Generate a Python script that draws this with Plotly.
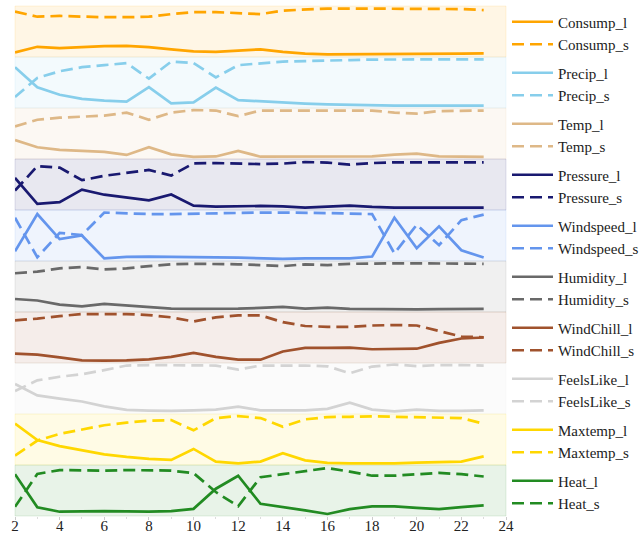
import plotly.graph_objects as go
from plotly.subplots import make_subplots

hours = list(range(2, 24))
x_ticks = list(range(2, 25, 2))

names = ["Consump", "Precip", "Temp", "Pressure", "Windspeed",
         "Humidity", "WindChill", "FeelsLike", "Maxtemp", "Heat"]
colors = ["#FFA500", "#87CEEB", "#DEB887", "#191970", "#6495ED",
          "#696969", "#A0522D", "#D3D3D3", "#FFD700", "#228B22"]

# Scaled series (0 = low, 1 = high) for the long (_l) and short (_s) signals
consump_l = [0.09, 0.20, 0.175, 0.195, 0.214, 0.22, 0.195, 0.15, 0.11, 0.10, 0.13,
             0.15, 0.10, 0.065, 0.052, 0.052, 0.052, 0.052, 0.052, 0.058, 0.065, 0.07]
consump_s = [0.89, 0.79, 0.805, 0.79, 0.78, 0.78, 0.79, 0.84, 0.88, 0.88, 0.86,
             0.84, 0.91, 0.935, 0.95, 0.95, 0.95, 0.95, 0.95, 0.94, 0.94, 0.92]
precip_l = [0.80, 0.405, 0.26, 0.18, 0.145, 0.125, 0.41, 0.09, 0.11, 0.40, 0.155,
            0.13, 0.105, 0.085, 0.07, 0.06, 0.05, 0.045, 0.045, 0.045, 0.045, 0.045]
precip_s = [0.215, 0.59, 0.72, 0.80, 0.84, 0.88, 0.575, 0.91, 0.88, 0.60, 0.84,
            0.88, 0.91, 0.92, 0.935, 0.94, 0.95, 0.95, 0.95, 0.955, 0.955, 0.955]
temp_l = [0.37, 0.23, 0.18, 0.16, 0.14, 0.08, 0.23, 0.09, 0.04, 0.05, 0.16,
          0.045, 0.045, 0.045, 0.045, 0.045, 0.05, 0.087, 0.107, 0.05, 0.045, 0.04]
temp_s = [0.64, 0.77, 0.81, 0.83, 0.85, 0.91, 0.77, 0.91, 0.96, 0.95, 0.84,
          0.95, 0.95, 0.95, 0.95, 0.95, 0.95, 0.91, 0.89, 0.94, 0.95, 0.95]
pressure_l = [0.63, 0.12, 0.155, 0.40, 0.30, 0.24, 0.19, 0.305, 0.085, 0.065, 0.07,
              0.08, 0.07, 0.045, 0.065, 0.085, 0.06, 0.045, 0.045, 0.045, 0.045, 0.045]
pressure_s = [0.38, 0.86, 0.83, 0.585, 0.67, 0.73, 0.785, 0.675, 0.915, 0.92, 0.915,
              0.90, 0.91, 0.94, 0.93, 0.89, 0.92, 0.935, 0.935, 0.935, 0.935, 0.935]
windspeed_l = [0.19, 0.92, 0.43, 0.50, 0.05, 0.08, 0.087, 0.087, 0.08, 0.073, 0.067,
               0.053, 0.04, 0.053, 0.053, 0.053, 0.087, 0.85, 0.25, 0.68, 0.21, 0.067]
windspeed_s = [0.85, 0.073, 0.55, 0.51, 0.95, 0.93, 0.92, 0.92, 0.93, 0.93, 0.94,
               0.95, 0.95, 0.95, 0.94, 0.93, 0.92, 0.15, 0.71, 0.31, 0.80, 0.91]
humidity_l = [0.255, 0.225, 0.145, 0.11, 0.16, 0.13, 0.09, 0.065, 0.06, 0.06, 0.065,
              0.08, 0.10, 0.065, 0.085, 0.06, 0.053, 0.053, 0.053, 0.055, 0.058, 0.06]
humidity_s = [0.76, 0.79, 0.855, 0.88, 0.835, 0.855, 0.90, 0.935, 0.945, 0.945, 0.935,
              0.92, 0.90, 0.935, 0.92, 0.945, 0.955, 0.955, 0.955, 0.95, 0.95, 0.945]
windchill_l = [0.185, 0.165, 0.11, 0.05, 0.045, 0.05, 0.07, 0.12, 0.20, 0.12, 0.065,
               0.065, 0.225, 0.295, 0.295, 0.30, 0.27, 0.275, 0.28, 0.395, 0.48, 0.50]
windchill_s = [0.835, 0.87, 0.92, 0.96, 0.96, 0.96, 0.94, 0.895, 0.815, 0.895, 0.935,
               0.935, 0.80, 0.725, 0.71, 0.71, 0.735, 0.745, 0.735, 0.625, 0.52, 0.505]
feelslike_l = [0.59, 0.365, 0.30, 0.245, 0.15, 0.08, 0.066, 0.06, 0.073, 0.086, 0.146,
               0.073, 0.073, 0.073, 0.10, 0.22, 0.086, 0.053, 0.086, 0.06, 0.06, 0.073]
feelslike_s = [0.45, 0.66, 0.73, 0.78, 0.86, 0.95, 0.96, 0.96, 0.96, 0.95, 0.87,
               0.95, 0.95, 0.95, 0.935, 0.80, 0.93, 0.97, 0.94, 0.96, 0.96, 0.95]
maxtemp_l = [0.81, 0.49, 0.37, 0.29, 0.21, 0.16, 0.12, 0.10, 0.315, 0.066, 0.033,
             0.066, 0.23, 0.09, 0.04, 0.033, 0.026, 0.033, 0.046, 0.06, 0.066, 0.17]
maxtemp_s = [0.185, 0.48, 0.61, 0.70, 0.78, 0.83, 0.87, 0.88, 0.68, 0.92, 0.96,
             0.92, 0.75, 0.895, 0.94, 0.945, 0.955, 0.945, 0.94, 0.93, 0.92, 0.81]
heat_l = [0.82, 0.17, 0.084, 0.097, 0.097, 0.09, 0.084, 0.097, 0.14, 0.535, 0.79,
          0.24, 0.18, 0.11, 0.04, 0.135, 0.19, 0.187, 0.16, 0.135, 0.174, 0.21]
heat_s = [0.18, 0.825, 0.90, 0.89, 0.89, 0.90, 0.90, 0.89, 0.84, 0.47, 0.19,
          0.76, 0.82, 0.88, 0.94, 0.87, 0.79, 0.79, 0.82, 0.845, 0.82, 0.775]

long_series = [consump_l, precip_l, temp_l, pressure_l, windspeed_l,
               humidity_l, windchill_l, feelslike_l, maxtemp_l, heat_l]
short_series = [consump_s, precip_s, temp_s, pressure_s, windspeed_s,
                humidity_s, windchill_s, feelslike_s, maxtemp_s, heat_s]

SERIF = "Liberation Serif"
W, H = 644, 535
M_L, M_R, M_T, M_B = 15, 138, 6, 19


def rgba(hex_color, alpha):
    h = hex_color.lstrip("#")
    r, g, b = int(h[0:2], 16), int(h[2:4], 16), int(h[4:6], 16)
    return f"rgba({r},{g},{b},{alpha})"


n = len(names)
fig = make_subplots(rows=n, cols=1, shared_xaxes=True, vertical_spacing=0)

band_h = (H - M_T - M_B) / n
legends = {}
for i, (name, color) in enumerate(zip(names, colors)):
    row = i + 1
    legend_id = "legend" if row == 1 else f"legend{row}"
    fig.add_trace(go.Scatter(
        x=hours, y=long_series[i], mode="lines", name=f"{name}_l",
        legend=legend_id, line=dict(color=color, width=2.7)), row=row, col=1)
    fig.add_trace(go.Scatter(
        x=hours, y=short_series[i], mode="lines", name=f"{name}_s",
        legend=legend_id, line=dict(color=color, width=2.7, dash="12px,6px")),
        row=row, col=1)
    suffix = "" if row == 1 else str(row)
    fig.add_shape(type="rect", xref=f"x{suffix} domain", yref=f"y{suffix} domain",
                  x0=0, x1=1, y0=0, y1=1, layer="below",
                  fillcolor=rgba(color, 0.1), line=dict(color=rgba(color, 0.12), width=1))
    fig.update_yaxes(range=[0, 1], showticklabels=False, showgrid=False,
                     zeroline=False, showline=False, row=row, col=1)
    # one small legend per panel, centred on its band (container coordinates)
    centre_px = M_T + (i + 0.5) * band_h + 1.5
    legends[legend_id] = dict(
        font=dict(family=SERIF, size=15, color="#222222"),
        xref="container", yref="container",
        x=(W - M_R + 1) / W, xanchor="left",
        y=1 - centre_px / H, yanchor="middle",
        itemwidth=41, bgcolor="rgba(0,0,0,0)", tracegroupgap=0)

fig.update_xaxes(range=[2, 24], showgrid=False, zeroline=False, showline=False,
                 automargin=False)
fig.update_yaxes(automargin=False)
fig.update_xaxes(tickvals=x_ticks, ticks="outside", ticklen=3, tickcolor="#cccccc",
                 ticklabelstandoff=-7,
                 tickfont=dict(family=SERIF, size=15, color="#222222"),
                 minor=dict(dtick=1, ticks="outside", ticklen=2, tickcolor="#dddddd"),
                 row=n, col=1)

fig.update_layout(
    width=W, height=H,
    margin=dict(l=M_L, r=M_R, t=M_T, b=M_B, autoexpand=False),
    paper_bgcolor="white", plot_bgcolor="white",
    **legends,
)

fig.write_html("out.html")
